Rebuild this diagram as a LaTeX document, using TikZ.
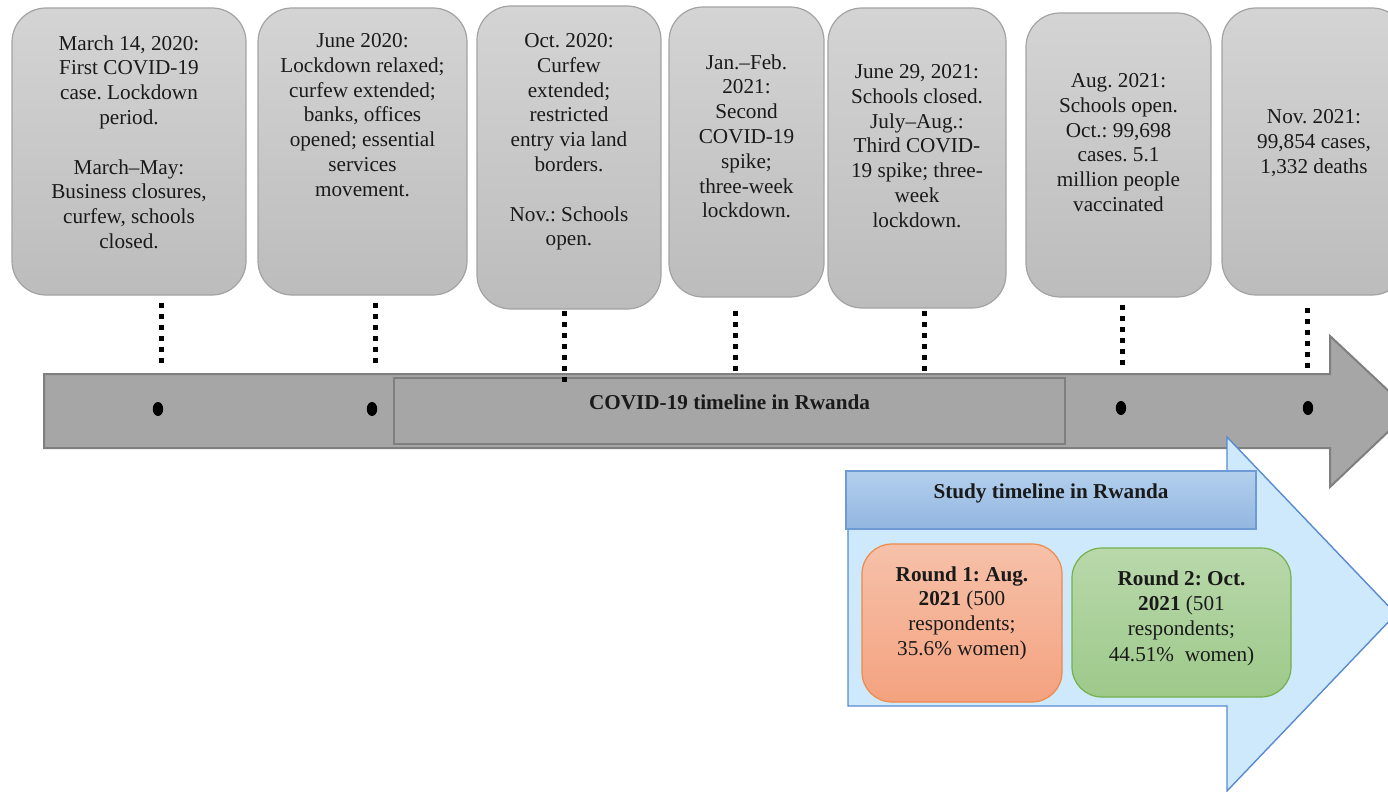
\documentclass[tikz,border=0pt]{standalone}
\usepackage{fontspec}
\setmainfont{Liberation Serif}
\usetikzlibrary{shapes.geometric}
\frenchspacing

\definecolor{boxtop}{HTML}{D4D4D4}
\definecolor{boxbot}{HTML}{BCBCBC}
\definecolor{boxline}{HTML}{A3A3A3}
\definecolor{arrowfill}{HTML}{A6A6A6}
\definecolor{arrowline}{HTML}{7F7F7F}
\definecolor{studyfill}{HTML}{CDE9FB}
\definecolor{studyline}{HTML}{5A8AD0}
\definecolor{headtop}{HTML}{B3CFED}
\definecolor{headbot}{HTML}{92B6E0}
\definecolor{headline}{HTML}{6E9AD6}
\definecolor{oneTop}{HTML}{F6C1AA}
\definecolor{oneBot}{HTML}{F4A27F}
\definecolor{oneLine}{HTML}{EE8A4A}
\definecolor{twoTop}{HTML}{B9D8AB}
\definecolor{twoBot}{HTML}{9DC98A}
\definecolor{twoLine}{HTML}{75B04C}
\definecolor{ink}{HTML}{1A1A1A}

\begin{document}
\begin{tikzpicture}[x=0.5pt,y=-0.5pt,
  every node/.style={text=ink},
  txt/.style={font=\fontsize{10.6}{12.4}\selectfont, align=center, inner sep=0pt},
  event/.style={draw=boxline, line width=0.6pt, rounded corners=17pt,
    top color=boxtop, bottom color=boxbot, inner sep=0pt},
  dotline/.style={line width=2.5pt, dash pattern=on 2.5pt off 3pt, black},
  tick/.style={ellipse, fill=black, minimum width=5.2pt, minimum height=7pt, inner sep=0pt},
  roundbox/.style={line width=0.6pt, rounded corners=15pt, inner sep=0pt}]

\useasboundingbox (0,0) rectangle (1388,792);
\clip (0,0) rectangle (1388,792);

% event boxes along the top
\node[event, minimum width=117pt, minimum height=143.5pt] (e1) at (129,151.5) {};
\node[event, minimum width=104.5pt, minimum height=143.5pt] (e2) at (362.5,151.5) {};
\node[event, minimum width=92pt, minimum height=151.5pt] (e3) at (569,157.5) {};
\node[event, minimum width=77.5pt, minimum height=145pt] (e4) at (746.5,152) {};
\node[event, minimum width=89pt, minimum height=150pt] (e5) at (917,158) {};
\node[event, minimum width=92.5pt, minimum height=142pt] (e6) at (1118.5,155) {};
\node[event, minimum width=92pt, minimum height=143.5pt] (e7) at (1314,151.5) {};

\node[txt, anchor=north] (t1) at (129,35) {March 14, 2020:\\ First COVID-19\\ case. Lockdown\\ period.\\[12.4pt] March–May:\\ Business closures,\\ curfew, schools\\ closed.};
\node[txt, anchor=north] (t2) at (362.5,33) {June 2020:\\ Lockdown relaxed;\\ curfew extended;\\ banks, offices\\ opened; essential\\ services\\ movement.};
\node[txt, anchor=north] (t3) at (569,33) {Oct. 2020:\\ Curfew\\ extended;\\ restricted\\ entry via land\\ borders.\\[12.4pt] Nov.: Schools\\ open.};
\node[txt, anchor=north] (t4) at (746.5,54) {Jan.–Feb.\\ 2021:\\ Second\\ COVID-19\\ spike;\\ three-week\\ lockdown.};
\node[txt, anchor=north] (t5) at (917,64) {June 29, 2021:\\ Schools closed.\\ July–Aug.:\\ Third COVID-\\ 19 spike; three-\\ week\\ lockdown.};
\node[txt, anchor=north] (t6) at (1118.5,73) {Aug. 2021:\\ Schools open.\\ Oct.: 99,698\\ cases. 5.1\\ million people\\ vaccinated};
\node[txt, anchor=north] (t7) at (1314,109) {Nov. 2021:\\ 99,854 cases,\\ 1,332 deaths};

% main COVID-19 timeline arrow
\draw[fill=arrowfill, draw=arrowline, line width=1pt]
  (44,374) -- (1330,374) -- (1330,336) -- (1410,411) -- (1330,487)
  -- (1330,448) -- (44,448) -- cycle;
\node[draw=arrowline, line width=1pt, fill=arrowfill, minimum width=335.5pt,
  minimum height=33pt, inner sep=0pt] (band) at (729.5,411) {};
\node[txt, font=\fontsize{10.6}{12.4}\selectfont\bfseries] (bandlabel) at (729.5,402) {COVID-19 timeline in Rwanda};

% markers on the timeline
\node[tick] (d1) at (158,409) {};
\node[tick] (d2) at (372,409) {};
\node[tick] (d3) at (1121,408) {};
\node[tick] (d4) at (1308,408) {};

% dotted leaders from each event box down to the timeline
\coordinate (q1) at (161,366);
\coordinate (q2) at (375,366);
\coordinate (q3) at (564,384);
\coordinate (q4) at (735,374);
\coordinate (q5) at (924,374);
\coordinate (q6) at (1122,368);
\coordinate (q7) at (1307,370);
\draw[dotline] ([yshift=-3.5pt]e1.south -| q1) -- (q1);
\draw[dotline] ([yshift=-3.5pt]e2.south -| q2) -- (q2);
\draw[dotline] ([yshift=-0.5pt]e3.south -| q3) -- (q3);
\draw[dotline] ([yshift=-6.5pt]e4.south -| q4) -- (q4);
\draw[dotline] ([yshift=-1pt]e5.south -| q5) -- (q5);
\draw[dotline] ([yshift=-3.5pt]e6.south -| q6) -- (q6);
\draw[dotline] ([yshift=-6pt]e7.south -| q7) -- (q7);

% study timeline arrow
\draw[fill=studyfill, draw=studyline, line width=0.7pt]
  (848,522) -- (1227,522) -- (1227,437) -- (1396,614) -- (1227,791)
  -- (1227,706) -- (848,706) -- cycle;
\node[draw=headline, line width=0.8pt, top color=headtop, bottom color=headbot,
  minimum width=205pt, minimum height=29pt, inner sep=0pt] (head) at (1051,500) {};
\node[txt, font=\fontsize{10.6}{12.4}\selectfont\bfseries] (headlabel) at (1051,493) {Study timeline in Rwanda};

% survey rounds
\node[roundbox, draw=oneLine, top color=oneTop, bottom color=oneBot,
  minimum width=100pt, minimum height=79pt] (r1) at (962,623) {};
\node[roundbox, draw=twoLine, top color=twoTop, bottom color=twoBot,
  minimum width=109.5pt, minimum height=74.5pt] (r2) at (1181.5,622.5) {};
\node[txt, anchor=north] (r1label) at (962,566) {\textbf{Round 1: Aug.}\\ \textbf{2021} (500\\ respondents;\\ 35.6\% women)};
\node[txt, anchor=north, font=\fontsize{10.6}{12.7}\selectfont] (r2label) at (1181.5,570) {\textbf{Round 2: Oct.}\\ \textbf{2021} (501\\ respondents;\\ 44.51\%\ \ women)};

\end{tikzpicture}
\end{document}
